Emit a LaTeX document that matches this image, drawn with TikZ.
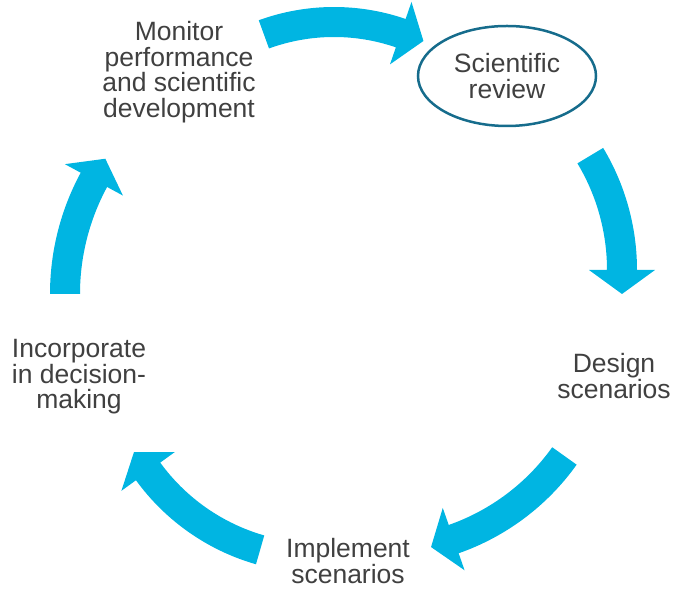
\documentclass[tikz,border=0pt]{standalone}
\usepackage{fontspec}
\setmainfont{Liberation Sans}
\usetikzlibrary{calc,shapes.geometric}

\definecolor{cycblue}{RGB}{0,181,226}
\definecolor{ringteal}{RGB}{22,108,140}
\definecolor{textgray}{RGB}{64,64,64}

\tikzset{
  stagetext/.style={align=center, text=textgray, inner sep=0pt,
    font=\fontsize{26.5}{25.5}\selectfont},
  reviewring/.style={stagetext, shape=ellipse, draw=ringteal, line width=2.5pt,
    minimum width=178pt, minimum height=100pt},
}

% curved block arrow (clockwise): centre, radius, start angle, end angle
\newcommand{\cycarrow}[4]{%
  \pgfmathsetmacro{\rout}{#2+15}%
  \pgfmathsetmacro{\rin}{#2-15}%
  \pgfmathsetmacro{\rwo}{#2+33}%
  \pgfmathsetmacro{\rwi}{#2-33}%
  \pgfmathsetmacro{\tipdir}{#4-90}%
  \fill[cycblue] ($(#1)+(#3:\rout)$) arc[start angle=#3, end angle=#4, radius=\rout]
    -- ($(#1)+(#4:\rwo)$) -- ($(#1)+(#4:#2)+(\tipdir:24)$) -- ($(#1)+(#4:\rwi)$)
    -- ($(#1)+(#4:\rin)$) arc[start angle=#4, end angle=#3, radius=\rin] -- cycle;
}

\begin{document}
\begin{tikzpicture}[x=1pt, y=1pt]
    \useasboundingbox (0,0) rectangle (673,589);

    % Arc centres of the five arrows
    \coordinate (ctop)   at (334,362);
    \coordinate (cright) at (400,319);
    \coordinate (cbr)    at (378,266);
    \coordinate (cbl)    at (318,241);
    \coordinate (cleft)  at (305,295);

    % Arrows, clockwise round the cycle
    \cycarrow{ctop}{205}{110}{71}
    \cycarrow{cright}{222}{31}{0}
    \cycarrow{cbr}{229}{-35.5}{-70.7}
    \cycarrow{cbl}{210}{-106}{-144}
    \cycarrow{cleft}{240}{180}{151.6}

    % Stages
    \node[reviewring] (review) at (507,513) {Scientific\\review};
    \node[stagetext] (design) at (614,213) {Design\\scenarios};
    \node[stagetext] (implement) at (348,28) {Implement\\scenarios};
    \node[stagetext] (incorporate) at (79,212) {Incorporate\\in decision-\\making};
    \node[stagetext] (monitor) at (179,517) {Monitor\\performance\\and scientific\\development};
\end{tikzpicture}
\end{document}
